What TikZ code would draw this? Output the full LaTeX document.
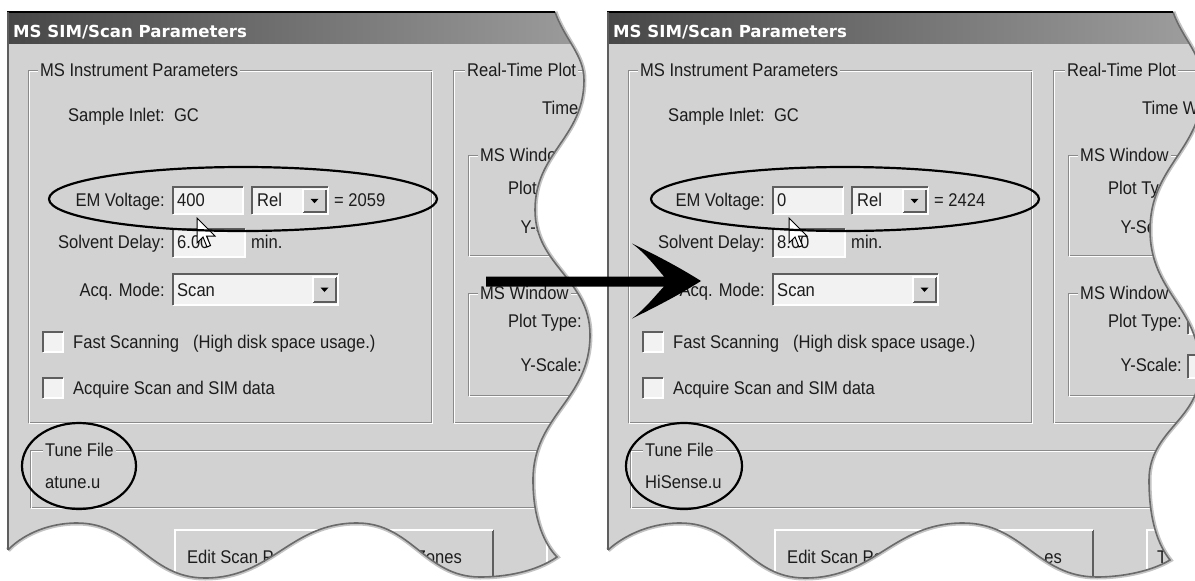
\documentclass[tikz,border=0pt]{standalone}
\usepackage{fontspec}
\setmainfont{Liberation Sans}
\newfontfamily\uifont{Liberation Sans}[FakeStretch=0.9]
\newfontfamily\titlefont{DejaVu Sans}
\usetikzlibrary{shapes.geometric}
\definecolor{panel}{HTML}{D2D2D2}
\definecolor{titleL}{HTML}{474747}
\definecolor{titleR}{HTML}{A6A6A6}
\definecolor{txtc}{HTML}{1C1C1C}
\definecolor{etch}{HTML}{8A8A8A}
\definecolor{field}{HTML}{F2F2F2}
\definecolor{darkedge}{HTML}{5E5E5E}
\definecolor{edgec}{HTML}{6A6A6A}
\definecolor{shadowc}{HTML}{C4C4C4}

\newcommand{\lwave}{(555,12) .. controls (565,40) and (584,55) .. (584,80)
 .. controls (584,138) and (535,152) .. (535,210)
 .. controls (535,266) and (590,279) .. (590,335)
 .. controls (590,400) and (533,415) .. (533,480)
 .. controls (533,520) and (545,545) .. (557,557)
 .. controls (535,572) and (505,577) .. (480,577)
 .. controls (425,577) and (412,523) .. (357,523)
 .. controls (290,523) and (272,578) .. (205,578)
 .. controls (148,578) and (134,523) .. (77,523)
 .. controls (45,523) and (20,537) .. (8,550)}

\newcommand{\rwave}{(1173,12) .. controls (1183,40) and (1203,55) .. (1203,85)
 .. controls (1203,150) and (1150,165) .. (1150,230)
 .. controls (1150,293) and (1200,307) .. (1200,370)
 .. controls (1200,420) and (1149,430) .. (1149,480)
 .. controls (1149,520) and (1158,545) .. (1170,560)
 .. controls (1150,572) and (1120,577) .. (1097,577)
 .. controls (1037,577) and (1023,523) .. (963,523)
 .. controls (893,523) and (875,578) .. (805,578)
 .. controls (748,578) and (738,523) .. (680,523)
 .. controls (648,523) and (622,537) .. (608,550)}

\newcommand{\etchbox}[4]{%
  \draw[etch, line width=1pt] (#1,#2) rectangle (#3,#4);
  \draw[white, line width=1pt] (#1+1,#2+1) rectangle (#3+1,#4+1);}
\newcommand{\sunkfield}[4]{%
  \fill[field] (#1,#2) rectangle (#3,#4);
  \draw[white, line width=1.2pt] (#1,#4) -- (#3,#4) -- (#3,#2);
  \draw[darkedge, line width=1.4pt] (#1,#4) -- (#1,#2) -- (#3,#2);}
\newcommand{\raisedbox}[4]{%
  \fill[panel] (#1,#2) rectangle (#3,#4);
  \draw[darkedge, line width=1.2pt] (#1,#4) -- (#3,#4) -- (#3,#2);
  \draw[white, line width=1.2pt] (#1,#4) -- (#1,#2) -- (#3,#2);}
\newcommand{\dropbtn}[4]{\raisedbox{#1}{#2}{#3}{#4}%
  \fill[black] ({(#1+#3)/2-4},{(#2+#4)/2-2}) -- ({(#1+#3)/2+4},{(#2+#4)/2-2}) -- ({(#1+#3)/2},{(#2+#4)/2+2.5}) -- cycle;}
\newcommand{\mousecursor}[2]{%
  \draw[black, fill=white, line width=1pt, line join=miter] (#1,#2) -- ++(0,25) -- ++(6,-6) -- ++(4,10) -- ++(3.5,-1.5) -- ++(-4,-9.5) -- ++(8.5,0) -- cycle;}

\newcommand{\dialogbody}[8]{%
 \shade[left color=titleL, right color=titleR] (8,13) rectangle (650,43);
 \node[titletxt] (#8-title) at (13,37) {MS SIM/Scan Parameters};
 \etchbox{28}{70}{431}{422}
 \node[grp] (#8-ip) at (38,76.5) {MS Instrument Parameters};
 \node[lbl] (#8-inlet) at (68,121.5) {Sample Inlet:\ \ GC};
 \node[rlbl] (#8-eml) at (165,206.5) {EM Voltage:};
 \sunkfield{173}{187}{243}{214}
 \node[lbl] (#8-emv) at (177,206.5) {#1};
 \sunkfield{252}{187}{328}{214}
 \dropbtn{303}{189.5}{326}{212}
 \node[lbl] (#8-rel) at (257,206.5) {Rel};
 \node[lbl] (#8-emr) at (334,206.5) {= #2};
 \node[rlbl] (#8-sdl) at (165,248.5) {Solvent Delay:};
 \sunkfield{173}{229}{245}{257}
 \node[lbl] (#8-sdv) at (177,248.5) {#3};
 \node[lbl] (#8-min) at (251,248.5) {min.};
 \node[rlbl] (#8-aql) at (165,296.5) {Acq. Mode:};
 \sunkfield{173}{274}{338}{305}
 \dropbtn{313}{277}{336}{302}
 \node[lbl] (#8-aqv) at (177,296.5) {Scan};
 \sunkfield{43}{332}{63}{352}
 \node[lbl] (#8-fs) at (73,348.5) {Fast Scanning};
 \node[lbl] (#8-hd) at (193,348.5) {(High disk space usage.)};
 \sunkfield{43}{378}{63}{398}
 \node[lbl] (#8-aq) at (73,394.5) {Acquire Scan and SIM data};
 \etchbox{453}{70}{660}{422}
 \node[grp] (#8-rt) at (465,76.5) {Real-Time Plot};
 \node[lbl] (#8-time) at (542,114.5) {#5};
 \etchbox{468}{155}{660}{255}
 \node[grp] (#8-w1) at (478,161.5) {MS Window};
 \node[rlbl] (#8-pt1) at (582,194.5) {Plot Type:};
 \node[rlbl] (#8-ys1) at (582,233.5) {Y-Scale:};
 \etchbox{468}{293}{660}{395}
 \node[grp] (#8-w2) at (478,299.5) {MS Window};
 \node[rlbl] (#8-pt2) at (582,327.5) {Plot Type:};
 \node[rlbl] (#8-ys2) at (582,371.5) {Y-Scale:};
 \etchbox{30}{450}{660}{507}
 \node[grp] (#8-tf) at (43,456.5) {Tune File};
 \node[lbl] (#8-tfv) at (45,488.5) {#4};
 \raisedbox{175}{530}{493}{600}
 \node[lbl] (#8-ed) at (187,563.5) {#6};
 \node[rlbl] (#8-zn) at (462,563.5) {#7};
 \raisedbox{547}{530}{720}{600}
}

\begin{document}
\begin{tikzpicture}[x=1pt,y=-1pt,
  txt/.style={inner sep=0pt, font=\uifont\fontsize{18.4}{20}\selectfont, text=txtc},
  lbl/.style={txt, anchor=base west},
  rlbl/.style={txt, anchor=base east},
  grp/.style={txt, anchor=base west, fill=panel, inner xsep=2pt, inner ysep=1pt},
  titletxt/.style={inner sep=0pt, anchor=base west, text=white, font=\titlefont\bfseries\fontsize{16.6}{18}\selectfont},
  ring/.style={draw=black, line width=2.2pt, ellipse, inner sep=0pt},
  shadowline/.style={draw=shadowc, line width=5pt},
  edgeline/.style={draw=edgec, line width=1.6pt},
]
\useasboundingbox (0,0) rectangle (1195,581);
\clip (0,0) rectangle (1195,581);
\fill[white] (0,0) rectangle (1195,581);

% ---------- left dialog ----------
\draw[shadowline] \lwave;
\begin{scope}
  \clip (8,12) -- \lwave -- cycle;
  \fill[panel] (0,0) rectangle (1195,581);
  \dialogbody{400}{2059}{6.00}{atune.u}{Time}{Edit Scan P}{Zones}{L}
\end{scope}
\draw[edgeline] \lwave;
\draw[black, line width=1.2pt] (7,12) -- (555,12);
\draw[darkedge, line width=1.2pt] (8,12) -- (8,550);

% ---------- right dialog ----------
\draw[shadowline] \rwave;
\begin{scope}
  \clip (608,12) -- \rwave -- cycle;
  \fill[panel] (0,0) rectangle (1195,581);
  \begin{scope}[xshift=600]
    \dialogbody{0}{2424}{8.00}{HiSense.u}{Time W}{Edit Scan Pa}{es}{R}
    \sunkfield{588}{311}{640}{334}
    \sunkfield{588}{355}{640}{378}
    \node[lbl] (R-t) at (557,563.5) {T};
  \end{scope}
\end{scope}
\draw[edgeline] \rwave;
\draw[black, line width=1.2pt] (607,12) -- (1173,12);
\draw[darkedge, line width=1.2pt] (608,12) -- (608,550);

% ---------- cursors ----------
\mousecursor{197}{218}
\mousecursor{789}{218}

% ---------- highlight rings ----------
\node[ring, minimum width=388pt, minimum height=64pt] (emL) at (243,199) {};
\node[ring, minimum width=114pt, minimum height=86pt] (tuneL) at (79,466) {};
\node[ring, minimum width=388pt, minimum height=64pt] (emR) at (845,199) {};
\node[ring, minimum width=116pt, minimum height=86pt] (tuneR) at (684,466) {};

% ---------- big arrow ----------
\fill[black] (486,276.5) -- (664,276.5)
  .. controls (655,266) and (645,253) .. (632,243.5)
  .. controls (660,257) and (682,269) .. (701,281)
  .. controls (682,293) and (660,305) .. (632,318.5)
  .. controls (645,309) and (655,296) .. (664,286.5)
  -- (486,286.5) -- cycle;
\end{tikzpicture}
\end{document}
